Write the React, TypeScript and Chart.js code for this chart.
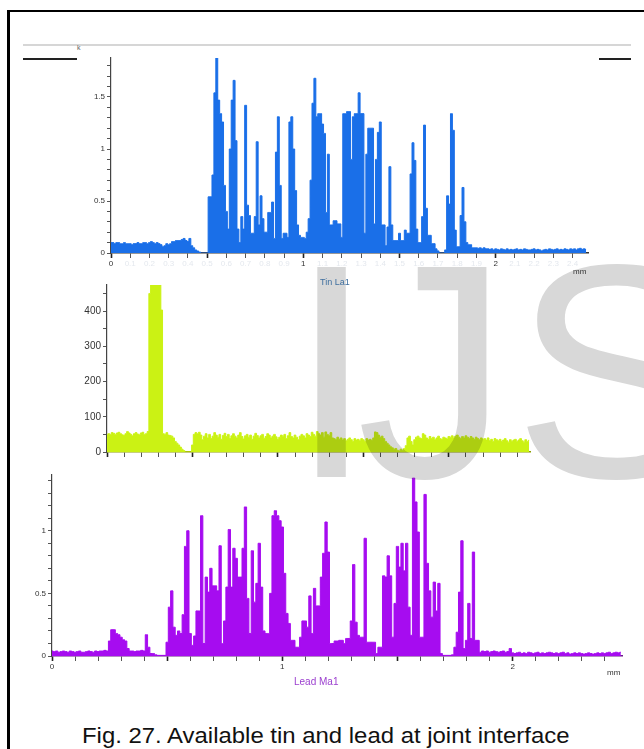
import React, { useEffect, useLayoutEffect, useRef, useState } from "react";
import { Chart, registerables } from "chart.js";

Chart.register(...registerables);

const FAMILY = "'Liberation Sans', Arial, Helvetica, sans-serif";
const FONT = FAMILY;

// Sampling grid along the scan line (mm), one reading every 0.01 mm
const POSITIONS_MM: number[] = Array.from({ length: 248 }, (_, i) => i / 100);

// Tin La1 (k counts)
const TIN_LA1: number[] = [
  0.10, 0.10, 0.09, 0.10, 0.10, 0.09, 0.09, 0.10, 0.09, 0.09,
  0.09, 0.08, 0.09, 0.09, 0.10, 0.09, 0.09, 0.10, 0.10, 0.09,
  0.10, 0.11, 0.10, 0.09, 0.10, 0.09, 0.08, 0.06, 0.07, 0.09,
  0.08, 0.09, 0.11, 0.11, 0.12, 0.12, 0.12, 0.13, 0.14, 0.12,
  0.11, 0.14, 0.07, 0.05, 0.03, 0.02, 0.01, 0, 0, 0,
  0, 0.54, 0.54, 0.75, 1.54, 1.88, 1.47, 1.34, 1.26, 0.65,
  0.40, 0.23, 1.00, 1.47, 1.66, 1.08, 0.23, 0.10, 0.35, 0.23,
  1.42, 0.46, 0.36, 0.19, 0.19, 0.35, 1.07, 0.27, 0.55, 0.33,
  0.20, 0.20, 0.39, 0.39, 0.49, 0.14, 0.97, 1.31, 0.65, 0.14,
  0.19, 0.19, 0.15, 1.26, 1.31, 1.00, 0.60, 0.27, 0.17, 0.15,
  0.15, 0.14, 0.20, 0.33, 0.70, 1.44, 1.68, 1.31, 1.34, 1.34,
  1.24, 1.15, 0.39, 0.95, 0.27, 0.27, 0.31, 0.31, 0.28, 0.28,
  0.15, 1.34, 1.34, 1.36, 1.36, 0.90, 1.31, 1.34, 1.34, 1.54,
  1.34, 1.34, 0.19, 0.95, 1.20, 1.20, 1.20, 0.28, 0.90, 1.16,
  1.26, 0.27, 0.27, 0.07, 0.25, 0.83, 0.27, 0.12, 0.12, 0.12,
  0.19, 0.12, 0.12, 0.22, 0.19, 0.19, 0.76, 1.06, 0.89, 0.23,
  0.10, 0.10, 0.35, 1.23, 0.43, 0.17, 0.17, 0.09, 0.09, 0.04,
  0.02, 0, 0, 0, 0.03, 0.55, 0.47, 1.34, 1.18, 0.22,
  0.06, 0.06, 0.36, 0.63, 0.30, 0.10, 0.08, 0.08, 0.05, 0.05,
  0.05, 0.045, 0.05, 0.04, 0.05, 0.04, 0.04, 0.035, 0.04, 0.03,
  0.04, 0.035, 0.03, 0.04, 0.035, 0.03, 0.04, 0.03, 0.035, 0.03,
  0.035, 0.04, 0.03, 0.035, 0.03, 0.04, 0.035, 0.03, 0.03, 0.035,
  0.04, 0.03, 0.035, 0.03, 0.02, 0.03, 0.035, 0.03, 0.04, 0.035,
  0.03, 0.035, 0.04, 0.03, 0.035, 0.03, 0.04, 0.035, 0.03, 0.04,
  0.035, 0.04, 0.03, 0.04, 0.045, 0.035, 0.04, 0.035,
];

// Middle (yellow-green) trace, counts
const MIDDLE_TRACE: number[] = [
  48, 52, 50, 55, 53, 50, 54, 56, 52, 49,
  47, 52, 58, 54, 50, 46, 52, 55, 51, 49,
  54, 56, 50, 52, 58, 450, 474, 474, 474, 474,
  474, 474, 403, 52, 50, 55, 48, 47, 45, 40,
  30, 25, 20, 14, 8, 4, 0, 0, 0, 0,
  20, 50, 55, 52, 56, 48, 35, 45, 52, 40,
  50, 38, 45, 55, 48, 42, 50, 36, 47, 53,
  44, 50, 38, 46, 52, 45, 40, 48, 55, 44,
  37, 46, 50, 42, 48, 36, 45, 53, 47, 40,
  46, 50, 38, 44, 52, 48, 40, 45, 50, 43,
  36, 42, 48, 45, 50, 38, 46, 55, 44, 40,
  48, 42, 35, 45, 50, 46, 40, 52, 48, 44,
  56, 50, 45, 58, 52, 48, 55, 42, 57, 50,
  46, 55, 40, 38, 35, 42, 36, 40, 34, 38,
  32, 36, 40, 35, 30, 38, 34, 36, 32, 38,
  35, 30, 38, 34, 36, 33, 40, 57, 55, 48,
  42, 45, 38, 30, 25, 20, 15, 12, 8, 10,
  5, 3, 8, 5, 10, 18, 40, 45, 30, 20,
  35, 42, 45, 40, 38, 52, 48, 40, 36, 44,
  38, 42, 35, 40, 45, 38, 36, 42, 40, 37,
  44, 42, 46, 40, 45, 48, 42, 38, 44, 40,
  46, 42, 38, 44, 40, 36, 42, 38, 35, 40,
  36, 38, 34, 40, 32, 36, 30, 38, 35, 32,
  36, 30, 34, 38, 32, 28, 35, 30, 34, 36,
  30, 34, 38, 32, 28, 35, 30, 33,
];

// Lead Ma1 (k counts)
const LEAD_MA1: number[] = [
  0.04, 0.035, 0.04, 0.03, 0.035, 0.04, 0.035, 0.03, 0.04, 0.035,
  0.03, 0.035, 0.04, 0.03, 0.03, 0.035, 0.04, 0.035, 0.03, 0.04,
  0.035, 0.04, 0.04, 0.045, 0.04, 0.12, 0.21, 0.21, 0.18, 0.17,
  0.15, 0.13, 0.12, 0.06, 0.04, 0.04, 0.035, 0.04, 0.04, 0.045,
  0.04, 0.17, 0.07, 0.02, 0.02, 0.01, 0.005, 0.005, 0.005, 0.005,
  0.11, 0.39, 0.52, 0.23, 0.165, 0.20, 0.18, 0.33, 0.875, 1.00,
  0.18, 0.085, 0.16, 0.36, 0.36, 1.12, 0.10, 0.63, 0.51, 0.70,
  0.56, 0.56, 0.52, 0.88, 0.10, 0.28, 0.55, 1.01, 0.55, 0.86,
  0.78, 0.63, 0.63, 0.86, 1.19, 0.46, 0.18, 0.84, 0.43, 0.58,
  0.90, 0.55, 0.20, 0.18, 0.18, 0.50, 1.12, 1.16, 1.12, 1.08,
  1.03, 0.66, 0.34, 0.26, 0.125, 0.125, 0.07, 0.07, 0.15, 0.28,
  0.28, 0.23, 0.48, 0.18, 0.54, 0.40, 0.40, 0.63, 0.82, 1.07,
  0.83, 0.10, 0.10, 0.12, 0.12, 0.125, 0.125, 0.10, 0.14, 0.14,
  0.28, 0.73, 0.27, 0.165, 0.15, 0.15, 0.94, 0.11, 0.11, 0.11,
  0.11, 0.02, 0.07, 0.07, 0.64, 0.63, 0.80, 0.64, 0.15, 0.42,
  0.875, 0.71, 0.90, 0.68, 0.90, 0.39, 0.165, 1.42, 1.23, 0.99,
  0.15, 0.15, 1.29, 0.74, 0.52, 0.31, 0.59, 0.36, 0.58, 0.02,
  0.005, 0.005, 0.005, 0.005, 0.01, 0.07, 0.19, 0.51, 0.92, 0.06,
  0.125, 0.42, 0.14, 0.83, 0.125, 0.125, 0.03, 0.04, 0.035, 0.04,
  0.03, 0.035, 0.04, 0.035, 0.03, 0.035, 0.04, 0.03, 0.035, 0.06,
  0.025, 0.02, 0.025, 0.03, 0.02, 0.025, 0.02, 0.03, 0.025, 0.02,
  0.025, 0.03, 0.02, 0.025, 0.02, 0.025, 0.03, 0.025, 0.02, 0.025,
  0.02, 0.025, 0.03, 0.02, 0.025, 0.015, 0.02, 0.025, 0.02, 0.025,
  0.02, 0.015, 0.02, 0.025, 0.02, 0.015, 0.02, 0.025, 0.02, 0.025,
  0.02, 0.025, 0.03, 0.02, 0.025, 0.03, 0.025, 0.03,
];

// Tick labels
const TIN_Y_LABELS = [0, 0.5, 1, 1.5];
const MIDDLE_Y_LABELS = [0, 100, 200, 300, 400];
const LEAD_Y_LABELS = [0, 0.5, 1];
const X_LABELS = [0, 1, 2];

const WATERMARK_LETTERS = ["I", "J", "S"];

const near = (a: number, b: number) => Math.abs(a - b) < 1e-6;
const isHalf = (v: number) => near(v * 2, Math.round(v * 2));

type Spec = {
  values: number[];
  color: string;
  left: number;
  top: number;
  width: number;
  height: number;
  padTop: number;
  padRight: number;
  yWidth: number;
  xHeight: number;
  xMax: number;
  yMax: number;
  yStep: number;
  yLabels: number[];
  xLabels: number[];
  faintMinorX: string | null;
  yFont: number;
  xFont: number;
  baseline: string;
};

function buildConfig(s: Spec): any {
  return {
    type: "line",
    data: {
      datasets: [
        {
          data: POSITIONS_MM.map((x, i) => ({ x, y: s.values[i] })),
          stepped: "middle",
          fill: "origin",
          backgroundColor: s.color,
          borderColor: s.color,
          borderWidth: 1,
          pointRadius: 0,
        },
      ],
    },
    options: {
      animation: false,
      responsive: false,
      maintainAspectRatio: false,
      events: [],
      layout: { padding: { top: s.padTop, right: s.padRight, left: 0, bottom: 0 } },
      plugins: { legend: { display: false }, tooltip: { enabled: false }, title: { display: false } },
      scales: {
        x: {
          type: "linear",
          min: 0,
          max: s.xMax,
          afterFit: (scale: any) => {
            scale.height = s.xHeight;
          },
          border: { display: true, color: s.baseline, width: 1.5 },
          grid: {
            drawOnChartArea: false,
            drawTicks: true,
            tickLength: 5,
            tickColor: (ctx: any) => (isHalf(ctx.tick ? ctx.tick.value : 0) ? "#222" : "#555"),
            tickWidth: (ctx: any) => (isHalf(ctx.tick ? ctx.tick.value : 0) ? 1.6 : 1),
          },
          ticks: {
            stepSize: 0.1,
            includeBounds: false,
            autoSkip: false,
            maxRotation: 0,
            minRotation: 0,
            padding: 1,
            font: { family: FONT, size: s.xFont },
            color: (ctx: any) =>
              s.xLabels.some((l) => near(l, ctx.tick.value)) ? "#333" : s.faintMinorX || "rgba(0,0,0,0)",
            callback: (v: any) => {
              const n = Number(v);
              const lab = s.xLabels.find((l) => near(l, n));
              if (lab !== undefined) return String(lab);
              return s.faintMinorX ? n.toFixed(1) : "";
            },
          },
        },
        y: {
          min: 0,
          max: s.yMax,
          afterFit: (scale: any) => {
            scale.width = s.yWidth;
          },
          border: { display: true, color: "#444", width: 1.2 },
          grid: {
            drawOnChartArea: false,
            drawTicks: true,
            tickLength: 4,
            tickColor: "#555",
            tickWidth: 1,
          },
          ticks: {
            stepSize: s.yStep,
            includeBounds: false,
            autoSkip: false,
            padding: 2,
            font: { family: FONT, size: s.yFont },
            color: "#333",
            callback: (v: any) => {
              const n = Number(v);
              const lab = s.yLabels.find((l) => near(l, n));
              return lab !== undefined ? String(lab) : "";
            },
          },
        },
      },
    },
  };
}

function Panel({ spec }: { spec: Spec }) {
  const ref = useRef<HTMLCanvasElement | null>(null);
  useEffect(() => {
    const chart = new Chart(ref.current as HTMLCanvasElement, buildConfig(spec));
    return () => chart.destroy();
  }, []);
  return (
    <canvas
      ref={ref}
      width={spec.width}
      height={spec.height}
      style={{
        position: "absolute",
        left: spec.left,
        top: spec.top,
        width: spec.width,
        height: spec.height,
      }}
    />
  );
}

const TIN_SPEC: Spec = {
  values: TIN_LA1,
  color: "#1a6fe8",
  left: 0,
  top: 48,
  width: 620,
  height: 230,
  padTop: 10,
  padRight: 32,
  yWidth: 111,
  xHeight: 25,
  xMax: 2.48,
  yMax: 1.875,
  yStep: 0.1,
  yLabels: TIN_Y_LABELS,
  xLabels: X_LABELS,
  faintMinorX: "#e4e8ee",
  yFont: 8,
  xFont: 8,
  baseline: "#333",
};

const MIDDLE_SPEC: Spec = {
  values: MIDDLE_TRACE,
  color: "#cbf214",
  left: 0,
  top: 275,
  width: 560,
  height: 195,
  padTop: 10,
  padRight: 30,
  yWidth: 107,
  xHeight: 18,
  xMax: 2.475,
  yMax: 474,
  yStep: 50,
  yLabels: MIDDLE_Y_LABELS,
  xLabels: [],
  faintMinorX: null,
  yFont: 10,
  xFont: 8,
  baseline: "#8d9e00",
};

const LEAD_SPEC: Spec = {
  values: LEAD_MA1,
  color: "#a60cf0",
  left: 0,
  top: 465,
  width: 644,
  height: 215,
  padTop: 10,
  padRight: 22,
  yWidth: 52,
  xHeight: 24,
  xMax: 2.475,
  yMax: 1.445,
  yStep: 0.1,
  yLabels: LEAD_Y_LABELS,
  xLabels: X_LABELS,
  faintMinorX: null,
  yFont: 8,
  xFont: 8,
  baseline: "#6a1a8a",
};

const abs = (left: number, top: number, extra: React.CSSProperties = {}): React.CSSProperties => ({
  position: "absolute",
  left,
  top,
  whiteSpace: "nowrap",
  fontFamily: FONT,
  ...extra,
});

// Watermark: letters sized so that the cap height and stem width match the scan.
type WmLetter = { ch: string; left: number; top: number };
type WmState = { size: number; weight: string; stroke: number; lineH: number; letters: WmLetter[] };

const WM_CAP_TOP = 270;
const WM_BASE_BOTTOM = 477;
const WM_STEM = 27;
const WM_COLOR = "#d8d8d8";

function Watermark() {
  const [st, setSt] = useState<WmState | null>(null);
  useLayoutEffect(() => {
    const c = document.createElement("canvas");
    const ctx = c.getContext("2d") as CanvasRenderingContext2D;
    const H = WM_BASE_BOTTOM - WM_CAP_TOP;
    const solve = (weight: string) => {
      ctx.font = `${weight} 100px ${FAMILY}`;
      const m = ctx.measureText("I");
      const a = (m.actualBoundingBoxAscent + m.actualBoundingBoxDescent) / 100;
      const b = (m.actualBoundingBoxLeft + m.actualBoundingBoxRight) / 100;
      const f = (H - WM_STEM) / (a - b);
      const w = WM_STEM - b * f;
      return { f, w, weight };
    };
    let sol = solve("bold");
    if (sol.w < 0) sol = solve("normal");
    if (sol.w < 0) sol = { ...sol, w: 0 };
    const f = sol.f;
    const w = sol.w;
    ctx.font = `${sol.weight} ${f}px ${FAMILY}`;
    const mI = ctx.measureText("I");
    const fa = mI.fontBoundingBoxAscent;
    const fd = mI.fontBoundingBoxDescent;
    const baseline = WM_BASE_BOTTOM - w / 2;
    const top = baseline - ((f - (fa + fd)) / 2 + fa);
    const mJ = ctx.measureText("J");
    const mS = ctx.measureText("S");
    const letters: WmLetter[] = [
      { ch: WATERMARK_LETTERS[0], left: 313 + mI.actualBoundingBoxLeft + w / 2, top },
      { ch: WATERMARK_LETTERS[1], left: 490 - mJ.actualBoundingBoxRight - w / 2, top },
      { ch: WATERMARK_LETTERS[2], left: 523 + mS.actualBoundingBoxLeft + w / 2, top },
    ];
    setSt({ size: f, weight: sol.weight, stroke: w, lineH: f, letters });
  }, []);
  if (!st) return null;
  return (
    <>
      {st.letters.map((l) => (
        <div
          key={l.ch}
          style={{
            position: "absolute",
            left: l.left,
            top: l.top,
            fontFamily: FAMILY,
            fontSize: st.size,
            fontWeight: st.weight as any,
            lineHeight: `${st.lineH}px`,
            color: WM_COLOR,
            WebkitTextStroke: `${st.stroke}px ${WM_COLOR}`,
            mixBlendMode: "multiply",
            whiteSpace: "nowrap",
          }}
        >
          {l.ch}
        </div>
      ))}
    </>
  );
}

export default function App() {
  return (
    <div
      style={{
        position: "fixed",
        left: 0,
        top: 0,
        width: 644,
        height: 749,
        overflow: "hidden",
        background: "#ffffff",
      }}
    >
      {/* figure frame */}
      <div
        style={{
          position: "absolute",
          left: 7,
          top: 10,
          width: 700,
          height: 800,
          borderLeft: "3px solid #000",
          borderTop: "2px solid #000",
        }}
      />
      {/* header rules */}
      <div style={{ position: "absolute", left: 23, top: 44, width: 608, height: 2, background: "#d6d6d6" }} />
      <div style={{ position: "absolute", left: 23, top: 58, width: 54, height: 1.5, background: "#222" }} />
      <div style={{ position: "absolute", left: 599, top: 58, width: 32, height: 1.5, background: "#222" }} />
      <div style={abs(77, 44, { fontSize: 7, color: "#666" })}>k</div>

      <Panel spec={TIN_SPEC} />
      <Panel spec={MIDDLE_SPEC} />
      <Panel spec={LEAD_SPEC} />

      <Watermark />

      {/* axis captions */}
      <div style={abs(320, 277, { fontSize: 9, color: "#3f6f9f" })}>Tin La1</div>
      <div style={abs(573, 267, { fontSize: 8, color: "#333" })}>mm</div>
      <div style={abs(294, 676, { fontSize: 10, color: "#9b3fcf" })}>Lead Ma1</div>
      <div style={abs(607, 668, { fontSize: 8, color: "#333" })}>mm</div>

      {/* figure caption */}
      <div
        style={abs(82, 725, {
          fontSize: 22,
          lineHeight: "22px",
          color: "#111",
          transform: "scaleX(1.087)",
          transformOrigin: "left top",
        })}
      >
        Fig. 27. Available tin and lead at joint interface
      </div>
    </div>
  );
}
